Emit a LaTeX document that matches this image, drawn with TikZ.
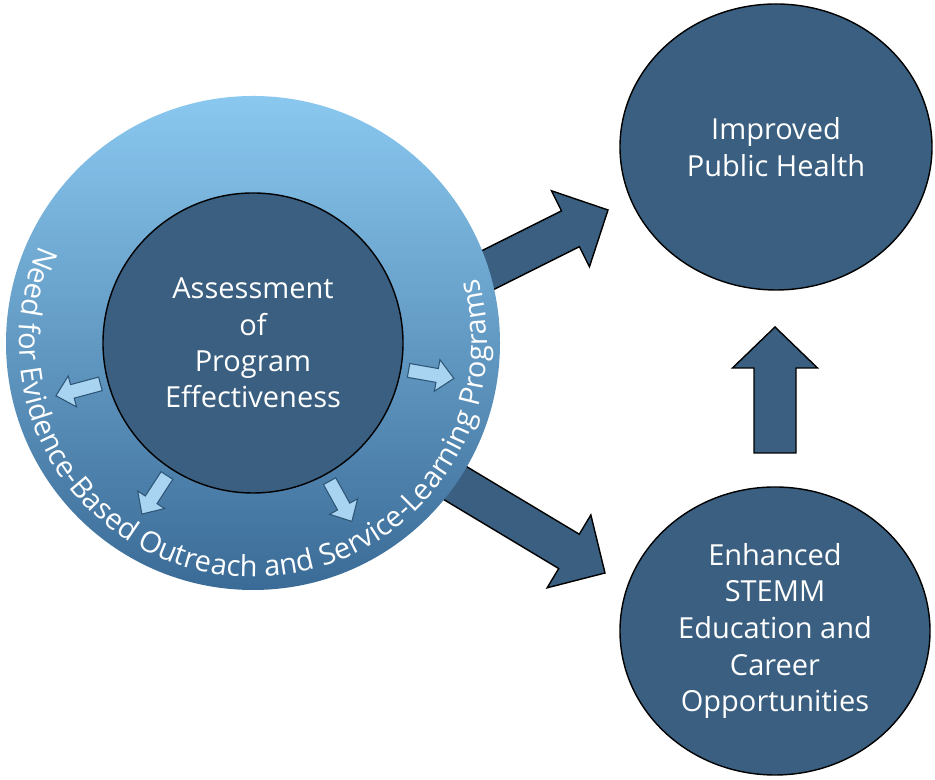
\documentclass[tikz,border=0pt]{standalone}
\usepackage{fontspec}
\setmainfont{Open Sans}
\usepackage{tikz}
\usetikzlibrary{calc,shapes.geometric,decorations.text}
\definecolor{NodeBlue}{HTML}{3A5F80}
\definecolor{RingTop}{HTML}{8AC8F0}
\definecolor{RingBottom}{HTML}{3A6B96}
\definecolor{TipBlue}{HTML}{A9D4F1}
\definecolor{TipEdge}{HTML}{2D5575}

% block arrow: style, tail, tip, half shaft, half head, head length
\newcommand{\blockarrow}[6]{%
  \coordinate (#2-#3) at ($(#3)!#6!(#2)$);
  \draw[#1] ($(#2)!#4!90:(#3)$) -- ($(#2-#3)!#4!-90:(#2)$)
    -- ($(#2-#3)!#5!-90:(#2)$) -- (#3) -- ($(#2-#3)!#5!90:(#2)$)
    -- ($(#2-#3)!#4!90:(#2)$) -- ($(#2)!#4!-90:(#3)$) -- cycle;
}

\begin{document}
\begin{tikzpicture}[
    ring/.style={
        circle,
        minimum size=9.88cm,
        top color=RingTop,
        bottom color=RingBottom
    },
    core/.style={
        circle,
        draw=black,
        line width=0.8pt,
        fill=NodeBlue,
        minimum size=6cm,
        align=center,
        text=white,
        font=\fontsize{16.5}{20.7}\selectfont
    },
    goal/.style={
        ellipse,
        draw=black,
        line width=0.8pt,
        fill=NodeBlue,
        align=center,
        text=white,
        font=\fontsize{16.5}{20.9}\selectfont
    },
    bigarrow/.style={
        draw=black,
        line width=0.8pt,
        fill=NodeBlue
    },
    tiparrow/.style={
        draw=TipEdge,
        line width=0.6pt,
        fill=TipBlue
    }
]
\useasboundingbox (0,0) rectangle (18.7,15.6);

% arrows out of the ring (tails hidden below it)
\coordinate (upT) at (8.0,9.32);
\coordinate (upH) at (12.16,11.4);
\coordinate (loT) at (8.0,6.6);
\coordinate (loH) at (12.1,4.14);
\blockarrow{bigarrow}{upT}{upH}{0.4cm}{0.85cm}{0.84cm}
\blockarrow{bigarrow}{loT}{loH}{0.4cm}{0.85cm}{0.84cm}

\node[ring] (ring) at (5.06,8.74) {};
\node[core] (assess) at (ring) {Assessment\\of\\Program\\Effectiveness};

% small arrows from the core into the ring
\foreach \ang [count=\i] in {195,350,237,299} {
    \coordinate (sT\i) at ($(ring.center)+(\ang:3.16)$);
    \coordinate (sH\i) at ($(ring.center)+(\ang:4.08)$);
    \blockarrow{tiparrow}{sT\i}{sH\i}{0.14cm}{0.32cm}{0.34cm}
}

\path[decorate, decoration={text along path, text align=center,
    text={|\color{white}\fontsize{16.5}{18}\selectfont|Need for Evidence-Based Outreach and Service-Learning Programs}}]
    (ring.center) ++(140:4.68) arc[start angle=140, end angle=391.5, radius=4.68];

\node[goal, minimum width=6.24cm, minimum height=5.72cm] (health) at (15.52,12.66) {Improved\\Public Health};
\node[goal, minimum width=6.2cm, minimum height=5.76cm] (stemm) at (15.5,2.98) {Enhanced\\STEMM\\Education and\\Career\\Opportunities};

\coordinate (midT) at (15.5,6.54);
\coordinate (midH) at (15.5,9.06);
\blockarrow{bigarrow}{midT}{midH}{0.42cm}{0.85cm}{0.82cm}

\end{tikzpicture}
\end{document}
